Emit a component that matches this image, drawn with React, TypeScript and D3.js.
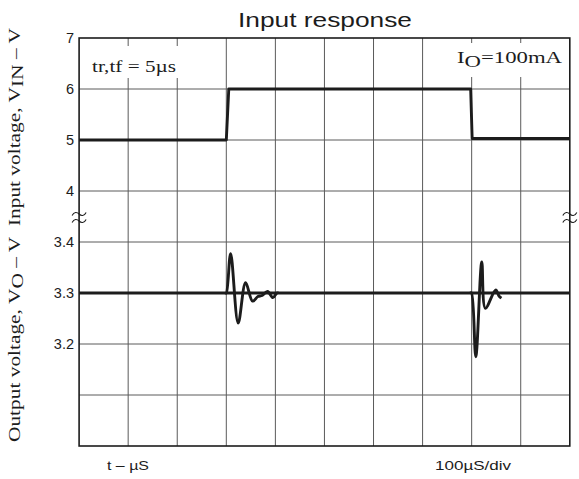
import React from "react";
import * as d3 from "d3";

// ---- data ----
const timeTicks = [0, 100, 200, 300, 400, 500, 600, 700, 800, 900, 1000];
const inputTicks = [4, 5, 6, 7];
const outputTicks = [3.0, 3.1, 3.2, 3.3, 3.4];
const inputTickLabels = ["4", "5", "6", "7"];
const outputTickLabels = ["", "", "3.2", "3.3", "3.4"];

const inputTime = [0, 300, 305, 798, 801, 1000];
const inputVolts = [5, 5, 6, 6, 5.03, 5.03];

const baselineTime = [0, 1000];
const baselineVolts = [3.3, 3.3];

const transient1Time = [298, 300, 308.8, 324.2, 339.3, 353.6, 364.4, 373, 384, 395, 403, 406];
const transient1Volts = [3.3, 3.3, 3.377, 3.241, 3.32, 3.284, 3.293, 3.295, 3.303, 3.291, 3.3, 3.3];

const transient2Time = [797, 799.6, 808.4, 820.6, 828, 849, 855.8, 860.7];
const transient2Volts = [3.3, 3.3, 3.175, 3.361, 3.27, 3.306, 3.294, 3.29];

const title = "Input response";
const noteRise = "tr,tf = 5µs";
const xLabelLeft = "t – µS";
const xLabelRight = "100µS/div";

export default function App() {
  const W = 579;
  const H = 479;
  const left = 79.1;
  const right = 569.8;
  const top = 38;
  const bottom = 446;

  const x = d3.scaleLinear().domain([0, 1000]).range([left, right]);
  const yIn = d3.scaleLinear().domain([4, 7]).range([191, top]);
  const yOut = d3.scaleLinear().domain([3.0, 3.4]).range([bottom, 242]);

  const inLine = d3
    .line<number>()
    .x((_, i) => x(inputTime[i]))
    .y((d) => yIn(d));
  const baseLine = d3
    .line<number>()
    .x((_, i) => x(baselineTime[i]))
    .y((d) => yOut(d));
  const t1Line = d3
    .line<number>()
    .x((_, i) => x(transient1Time[i]))
    .y((d) => yOut(d))
    .curve(d3.curveCatmullRom.alpha(0.5));
  const t2Line = d3
    .line<number>()
    .x((_, i) => x(transient2Time[i]))
    .y((d) => yOut(d))
    .curve(d3.curveCatmullRom.alpha(0.5));

  const sans = "'Liberation Sans', Arial, sans-serif";
  const serif = "'Liberation Serif', 'Times New Roman', serif";
  const gridColor = "#5a5a5a";
  const ink = "#1c1c1c";

  const tilde = (cx: number, cy: number) =>
    `M${cx - 7},${cy + 1.5} C${cx - 5},${cy - 2.5} ${cx - 2},${cy - 2} ${cx},${cy} S${cx + 5},${cy + 2.5} ${cx + 7},${cy - 1.5}`;

  return (
    <svg
      width={W}
      height={H}
      style={{ position: "absolute", left: 0, top: 0, background: "#fff", display: "block" }}
    >
      <rect x={0} y={0} width={W} height={H} fill="#fff" />
      {/* vertical grid */}
      {timeTicks.slice(1, -1).map((t) => (
        <line key={"v" + t} x1={x(t)} x2={x(t)} y1={top} y2={bottom} stroke={gridColor} strokeWidth={1} />
      ))}
      {/* horizontal grid */}
      {inputTicks.slice(0, -1).map((v) => (
        <line key={"hi" + v} x1={left} x2={right} y1={yIn(v)} y2={yIn(v)} stroke={gridColor} strokeWidth={1} />
      ))}
      {outputTicks.slice(1).map((v) => (
        <line key={"ho" + v} x1={left} x2={right} y1={yOut(v)} y2={yOut(v)} stroke={gridColor} strokeWidth={1} />
      ))}

      {/* annotation boxes */}
      <rect x={83} y={46} width={100} height={32} fill="#fff" />
      <rect x={452} y={43} width={114} height={34} fill="#fff" />

      {/* frame */}
      <rect x={left} y={top} width={right - left} height={bottom - top} fill="none" stroke={ink} strokeWidth={1.6} />

      {/* break marks */}
      {[left, right].map((bx) => (
        <g key={"b" + bx} fill="none" stroke={ink} strokeWidth={1.1}>
          <path d={tilde(bx, 214)} />
          <path d={tilde(bx, 221)} />
        </g>
      ))}

      {/* traces */}
      <g fill="none" stroke={ink} strokeWidth={2.9} strokeLinejoin="round" strokeLinecap="butt">
        <path d={inLine(inputVolts) || ""} />
        <path d={baseLine(baselineVolts) || ""} />
        <path d={t1Line(transient1Volts) || ""} />
        <path d={t2Line(transient2Volts) || ""} />
      </g>

      {/* tick labels */}
      {inputTicks.map((v, i) => (
        <text key={"ti" + v} x={74} y={yIn(v) + 5} textAnchor="end" fontFamily={sans} fontSize={14.5} fill={ink}>
          {inputTickLabels[i]}
        </text>
      ))}
      {outputTicks.map((v, i) =>
        outputTickLabels[i] ? (
          <text key={"to" + v} x={74} y={yOut(v) + 5} textAnchor="end" fontFamily={sans} fontSize={14.5} fill={ink}>
            {outputTickLabels[i]}
          </text>
        ) : null
      )}

      {/* title */}
      <text x={325} y={27} textAnchor="middle" fontFamily={sans} fontSize={20.5} fill={ink} textLength={174} lengthAdjust="spacingAndGlyphs">
        {title}
      </text>

      {/* notes */}
      <text x={92} y={71.5} fontFamily={serif} fontSize={17} fill={ink} textLength={84} lengthAdjust="spacingAndGlyphs">
        {noteRise}
      </text>
      <text x={457} y={63.3} fontFamily={serif} fontSize={17} fill={ink} textLength={105} lengthAdjust="spacingAndGlyphs">
        I<tspan dy={3.5}>O</tspan>
        <tspan dy={-3.5}>=100mA</tspan>
      </text>

      {/* y axis label */}
      <text
        transform="translate(20,235) rotate(-90)"
        textAnchor="middle"
        fontFamily={serif}
        fontSize={16.5}
        fill={ink}
        textLength={414}
        lengthAdjust="spacingAndGlyphs"
      >
        Output voltage, V<tspan dy={3}>O</tspan>
        <tspan dy={-3}>{" – V\u00A0\u00A0Input voltage, V"}</tspan>
        <tspan dy={3}>IN</tspan>
        <tspan dy={-3}> – V</tspan>
      </text>

      {/* x labels */}
      <text x={107} y={470} fontFamily={sans} fontSize={13} fill={ink} textLength={42} lengthAdjust="spacingAndGlyphs">
        {xLabelLeft}
      </text>
      <text x={435} y={470} fontFamily={sans} fontSize={13} fill={ink} textLength={76} lengthAdjust="spacingAndGlyphs">
        {xLabelRight}
      </text>
    </svg>
  );
}
